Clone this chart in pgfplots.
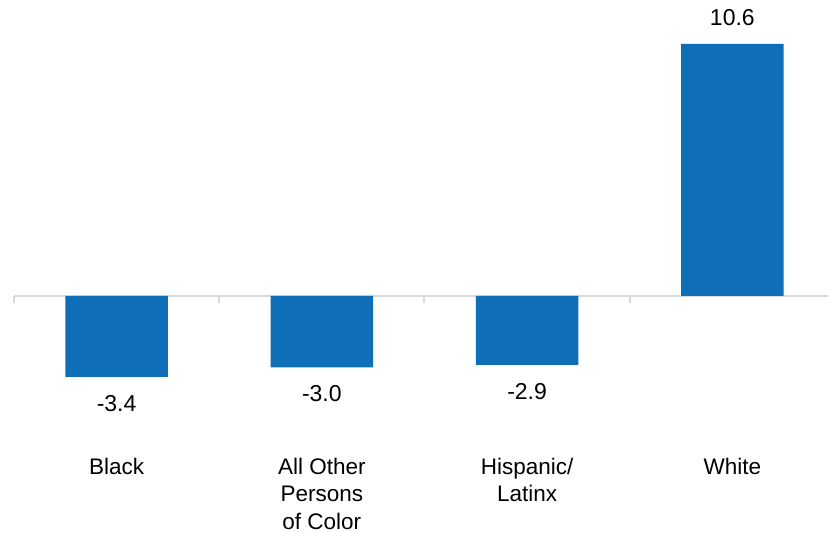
\documentclass[border=0pt]{standalone}
\usepackage{pgfplots}
\pgfplotsset{compat=1.18}
\usepackage{fontspec}
\setmainfont{Liberation Sans}
\definecolor{barblue}{RGB}{14,110,184}
\definecolor{zgray}{RGB}{217,217,217}
\begin{document}
\begin{tikzpicture}
\begin{axis}[
  scale only axis,
  width=828bp, height=533bp,
  xmin=-0.568, xmax=3.466,
  ymin=-9.97, ymax=12.45,
  axis line style={draw=none},
  ytick=\empty,
  xtick={0,1,2,3},
  xticklabels={Black,All Other\\Persons\\of Color,Hispanic/\\Latinx,White},
  xtick style={draw=none},
  xticklabel style={align=center, anchor=north, yshift=83bp, font=\fontsize{22.5bp}{27.5bp}\selectfont},
  clip=false,
  ybar, bar width=0.5,
  nodes near coords,
  nodes near coords style={font=\fontsize{23bp}{25bp}\selectfont, inner xsep=3bp, inner ysep=18bp,
    /pgf/number format/fixed, /pgf/number format/fixed zerofill,
    /pgf/number format/precision=1, /pgf/number format/assume math mode=true},
]
\coordinate (bl) at (rel axis cs:0,0);
\coordinate (tr) at (rel axis cs:1,1);
\draw[zgray, line width=2bp] (axis cs:-0.5,0) -- (axis cs:3.466,0);
\draw[zgray, line width=2bp] (axis cs:-0.5,0) -- ++(0pt,-7bp);
\draw[zgray, line width=2bp] (axis cs:0.5,0) -- ++(0pt,-7bp);
\draw[zgray, line width=2bp] (axis cs:1.5,0) -- ++(0pt,-7bp);
\draw[zgray, line width=2bp] (axis cs:2.5,0) -- ++(0pt,-7bp);
\addplot[fill=barblue, draw=none] coordinates {(0,-3.4) (1,-3.0) (2,-2.9) (3,10.6)};
\end{axis}
\pgfresetboundingbox
\useasboundingbox (bl) rectangle (tr);
\end{tikzpicture}
\end{document}
